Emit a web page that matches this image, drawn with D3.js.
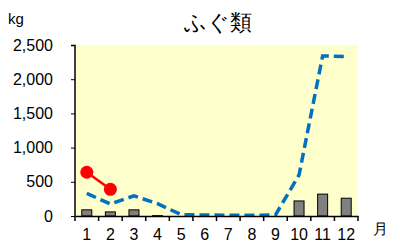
<!DOCTYPE html>
<html>
<head>
<meta charset="utf-8">
<script src="https://cdn.jsdelivr.net/npm/d3@7"></script>
<style>
  body { margin: 0; background: #fff; }
  svg text { font-family: "Liberation Sans", Arial, sans-serif; }
</style>
</head>
<body>
<div id="chart"></div>
<script>
// data
const months = ["1","2","3","4","5","6","7","8","9","10","11","12"];
const barValues = [90, 60, 90, 5, 0, 0, 0, 0, 0, 220, 320, 260];
const redValues = [640, 390];
const blueValues = [330, 175, 295, 180, 20, 15, 10, 10, 15, 600, 2340, 2330];
const yTicks = [0, 500, 1000, 1500, 2000, 2500];

const margin = ({top: 45, right: 42, bottom: 32, left: 75});
const width = 400 - margin.left - margin.right, height = 248 - margin.top - margin.bottom;

const root = d3.select("#chart")
  .append("svg")
  .attr("width", 400)
  .attr("height", 248);

const svg = root.append("g")
  .attr("transform", `translate(${margin.left}, ${margin.top})`);

const xScale = d3.scaleBand()
  .domain(months)
  .range([0, width]);

const yScale = d3.scaleLinear()
  .domain([0, 2500])
  .range([height, 0]);

// plot background
svg.append("rect")
  .attr("width", width)
  .attr("height", height)
  .attr("fill", "#ffffcc");

// bars
svg.selectAll(".bar")
  .data(barValues)
  .enter()
  .append("rect")
  .attr("class", "bar")
  .attr("x", (d, i) => xScale(months[i]) + xScale.bandwidth() / 2 - 5)
  .attr("width", 10)
  .attr("y", d => yScale(d))
  .attr("height", d => height - yScale(d))
  .attr("fill", "#808080")
  .attr("stroke", "#000")
  .attr("stroke-width", 1);

const line = d3.line()
  .x((d, i) => xScale(months[i]) + xScale.bandwidth() / 2)
  .y(d => yScale(d));

// blue dashed line
svg.append("path")
  .datum(blueValues)
  .attr("d", line)
  .attr("fill", "none")
  .attr("stroke", "#0070c0")
  .attr("stroke-width", 3.5)
  .attr("stroke-dasharray", "10,5");

// red line with markers
svg.append("path")
  .datum(redValues)
  .attr("d", line)
  .attr("fill", "none")
  .attr("stroke", "#ff0000")
  .attr("stroke-width", 2.5);

svg.selectAll(".dot")
  .data(redValues)
  .enter()
  .append("circle")
  .attr("cx", (d, i) => xScale(months[i]) + xScale.bandwidth() / 2)
  .attr("cy", d => yScale(d))
  .attr("r", 6.5)
  .attr("fill", "#ff0000");

// axes
const yAxis = d3.axisLeft(yScale)
  .tickValues(yTicks)
  .tickFormat(d3.format(","))
  .tickSize(4)
  .tickPadding(18);

const gy = svg.append("g").call(yAxis);
gy.select(".domain").attr("stroke", "#000").attr("stroke-width", 1.5).attr("d", `M-4,0.5H0V${height}`);
gy.selectAll("text").attr("font-size", 16).attr("fill", "#000");

const xAxis = d3.axisBottom(xScale)
  .tickSize(0)
  .tickPadding(13);

const gx = svg.append("g")
  .attr("transform", `translate(0, ${height})`)
  .call(xAxis);
gx.select(".domain").attr("stroke", "#000").attr("stroke-width", 1.5);
gx.selectAll("text").attr("font-size", 16).attr("fill", "#000");

// tick marks at band boundaries
gx.selectAll(".bound")
  .data(months.concat(["end"]))
  .enter()
  .append("line")
  .attr("x1", (d, i) => i < months.length ? xScale(d) : width)
  .attr("x2", (d, i) => i < months.length ? xScale(d) : width)
  .attr("y1", 0)
  .attr("y2", 5)
  .attr("stroke", "#000")
  .attr("stroke-width", 1.5);

// labels
root.append("text")
  .attr("x", 218)
  .attr("y", 30)
  .attr("text-anchor", "middle")
  .attr("font-size", 22)
  .attr("font-family", "'Noto Sans CJK JP', sans-serif")
  .text("ふぐ類");

root.append("text")
  .attr("x", 8)
  .attr("y", 24)
  .attr("font-size", 15)
  .text("kg");

root.append("text")
  .attr("x", 373)
  .attr("y", 234)
  .attr("font-size", 15)
  .attr("font-family", "'Noto Sans CJK JP', sans-serif")
  .text("月");
</script>
</body>
</html>
